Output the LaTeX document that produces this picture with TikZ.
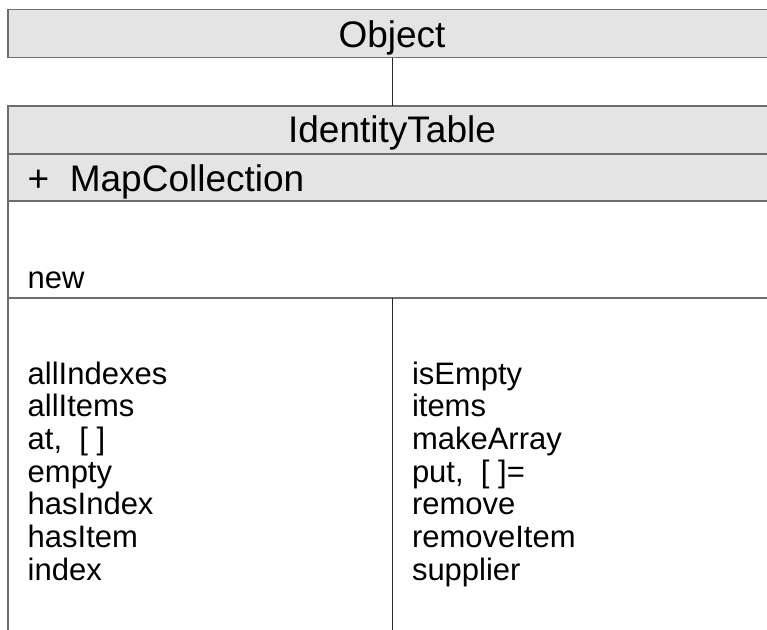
\documentclass[tikz,border=0pt]{standalone}
\usepackage{fontspec}
\setmainfont{Liberation Sans}
\usetikzlibrary{positioning}
\definecolor{boxfill}{HTML}{E4E4E4}
\definecolor{boxline}{HTML}{6E6E6E}
\begin{document}
\begin{tikzpicture}[
  x=1pt, y=-1pt,
  every node/.style={outer sep=0pt},
  classbox/.style={draw=boxline, line width=1.5pt, fill=boxfill, minimum width=768pt, inner sep=0pt},
  membox/.style={draw=boxline, line width=1.5pt, fill=white, minimum width=768pt, inner sep=0pt},
  title/.style={font=\fontsize{37}{44}\selectfont, inner sep=0pt, anchor=base},
  member/.style={font=\fontsize{31}{36}\selectfont, inner sep=0pt, anchor=base west},
  link/.style={draw=black!85, line width=1pt}
]
\useasboundingbox (0,0) rectangle (767,629);

% superclass
\node[classbox, minimum height=48pt, anchor=north west] (object) at (8,9.5) {};
\node[title] (objectname) at (392,47) {Object};

% class box
\node[classbox, minimum height=48pt, anchor=north west] (head) at (8,106) {};
\node[classbox, minimum height=47pt, below=0pt of head] (super) {};
\node[membox, minimum height=97pt, below=0pt of super] (cls) {};
\node[membox, minimum height=362pt, below=0pt of cls] (inst) {};

\node[title] (classname) at (392,142.7) {IdentityTable};
\node[title, anchor=base west] (supername) at (27.7,191.7) {+\ \ MapCollection};
\node[member] (new) at (27.7,288.3) {new};

\draw[link] (object.south) -- (head.north);
\draw[link] (inst.north) -- (inst.south);

% instance methods
\foreach \m [count=\i] in {allIndexes, allItems, {at,\ \ [ ]}, empty, hasIndex, hasItem, index}
  \node[member] (left\i) at (27.7,{384+32.7*(\i-1)}) {\m};
\foreach \m [count=\i] in {isEmpty, items, makeArray, {put,\ \ [ ]=}, remove, removeItem, supplier}
  \node[member] (right\i) at (412,{384+32.7*(\i-1)}) {\m};
\end{tikzpicture}
\end{document}
